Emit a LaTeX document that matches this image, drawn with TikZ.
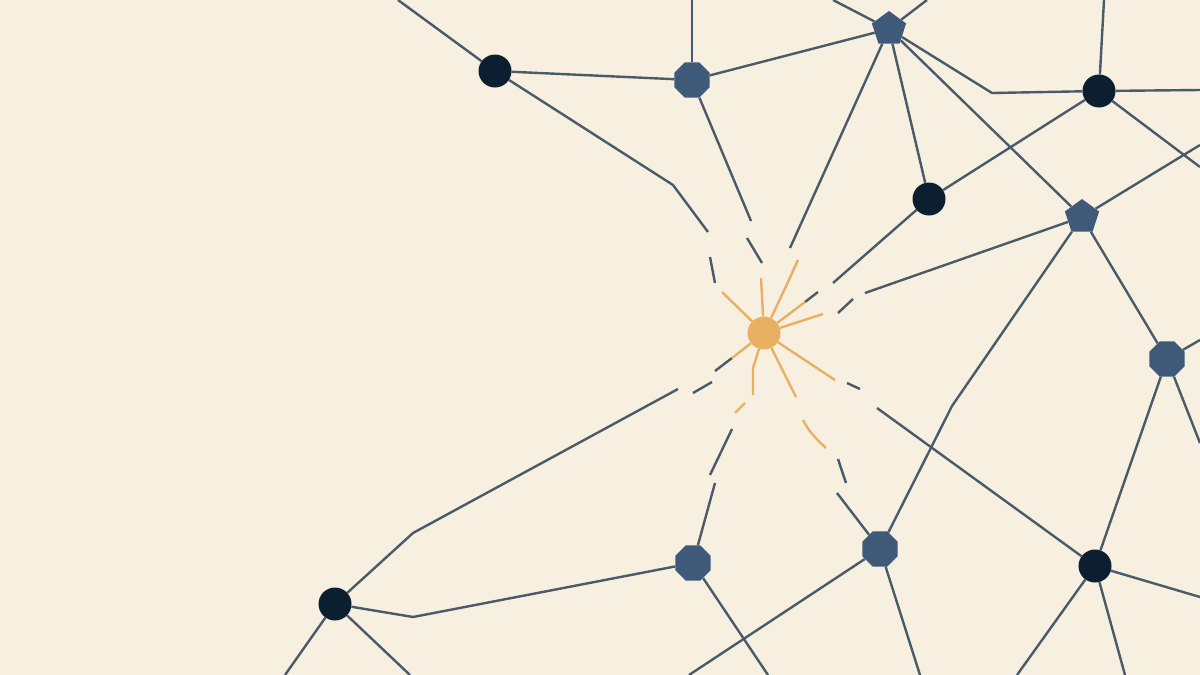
\documentclass[tikz,border=0pt]{standalone}
\usetikzlibrary{shapes.geometric}
\usetikzlibrary{backgrounds}
\definecolor{paper}{HTML}{F7F0E0}
\definecolor{slate}{HTML}{4B5A69}
\definecolor{ink}{HTML}{0C1F31}
\definecolor{steel}{HTML}{3F5A79}
\definecolor{amber}{HTML}{E8B063}
\tikzset{
 hub/.style={circle, fill=ink, minimum size=33pt, inner sep=0},
 octo/.style={regular polygon, regular polygon sides=8, fill=steel, minimum size=38pt, inner sep=0},
 penta/.style={regular polygon, regular polygon sides=5, fill=steel, minimum size=36pt, inner sep=0},
 link/.style={slate, line width=2.4pt},
 ray/.style={amber, line width=2.4pt},
}
\begin{document}
\begin{tikzpicture}[x=1pt, y=-1pt]
\useasboundingbox (0,0) rectangle (1200,675);
% nodes
\node[hub] (d1) at (495,71) {};
\node[octo] (h1) at (692,80) {};
\node[penta] (p1) at (889,29) {};
\node[hub] (d2) at (1099,91) {};
\node[hub] (d3) at (929,199) {};
\node[penta] (p2) at (1082,217) {};
\node[octo] (h2) at (1167,359) {};
\node[hub] (d4) at (335,604) {};
\node[octo] (h3) at (693,563) {};
\node[octo] (h4) at (880,549) {};
\node[hub] (d5) at (1095,566) {};
\node[circle, fill=amber, minimum size=33pt, inner sep=0] (sun) at (764,333) {};
% free ends on the border
\foreach \n/\x/\y in {e1/398/0, e2/692/0, e3/833/0, e4/927/0, e5/1104/0, e6/1200/90,
  e7/1200/167, e8/1200/145, e9/1200/340, e10/1200/443, e11/1200/597, e12/1125/675,
  e13/1017/675, e14/920/675, e15/689/675, e16/768/675, e17/410/675, e18/285/675}
  \coordinate (\n) at (\x,\y);
\begin{scope}[on background layer]
\fill[paper] (0,0) rectangle (1200,675);
\foreach \a/\b in {e1/d1, e2/h1, e3/p1, e4/p1, e5/d2, e6/d2, e7/d2, e8/p2, e9/h2,
  e10/h2, e11/d5, e12/d5, e13/d5, e14/h4, e15/h4, e16/h3, e17/d4, e18/d4,
  d1/h1, h1/p1, p1/d3, p1/p2, d2/d3, p2/h2, h2/d5}
  \draw[link] (\a) -- (\b);
\draw[link] (p1) -- (992,93) -- (d2);
\draw[link] (p2) -- (952,406) -- (h4);
\draw[link] (d4) -- (413,617) -- (h3);
% lines that break up near the sun
\draw[link] (d1) -- (673,185) -- (708,232);
\draw[link] (h1) -- (751,221);
\draw[link] (p1) -- (790,248);
\draw[link] (d3) -- (833,283);
\draw[link] (p2) -- (865,293);
\draw[link] (d5) -- (877,408);
\draw[link] (h4) -- (837,493);
\draw[link] (h3) -- (715,483);
\draw[link] (d4) -- (413,533) -- (678,389);
\foreach \p/\q in {{710,257}/{715,283}, {747,238}/{762,263}, {818,292}/{805,302},
  {853,299}/{838,313}, {860,389}/{847,383}, {846,483}/{838,459}, {732,429}/{710,475},
  {693,393}/{712,382}, {715,371}/{732,358}}
  \draw[link] (\p) -- (\q);
% rays
\foreach \p in {{722,292}, {761,278}, {805,302}, {823,314}, {835,380}, {796,397}, {732,358}}
  \draw[ray] (\p) -- (sun);
\draw[ray] (798,260) -- (788,282) -- (sun);
\draw[ray] (753,395) -- (753,368) -- (sun);
\draw[ray] (826,448) .. controls (815,438) and (808,430) .. (803,420);
\draw[ray] (735,413) -- (745,403);
\end{scope}
\end{tikzpicture}
\end{document}
